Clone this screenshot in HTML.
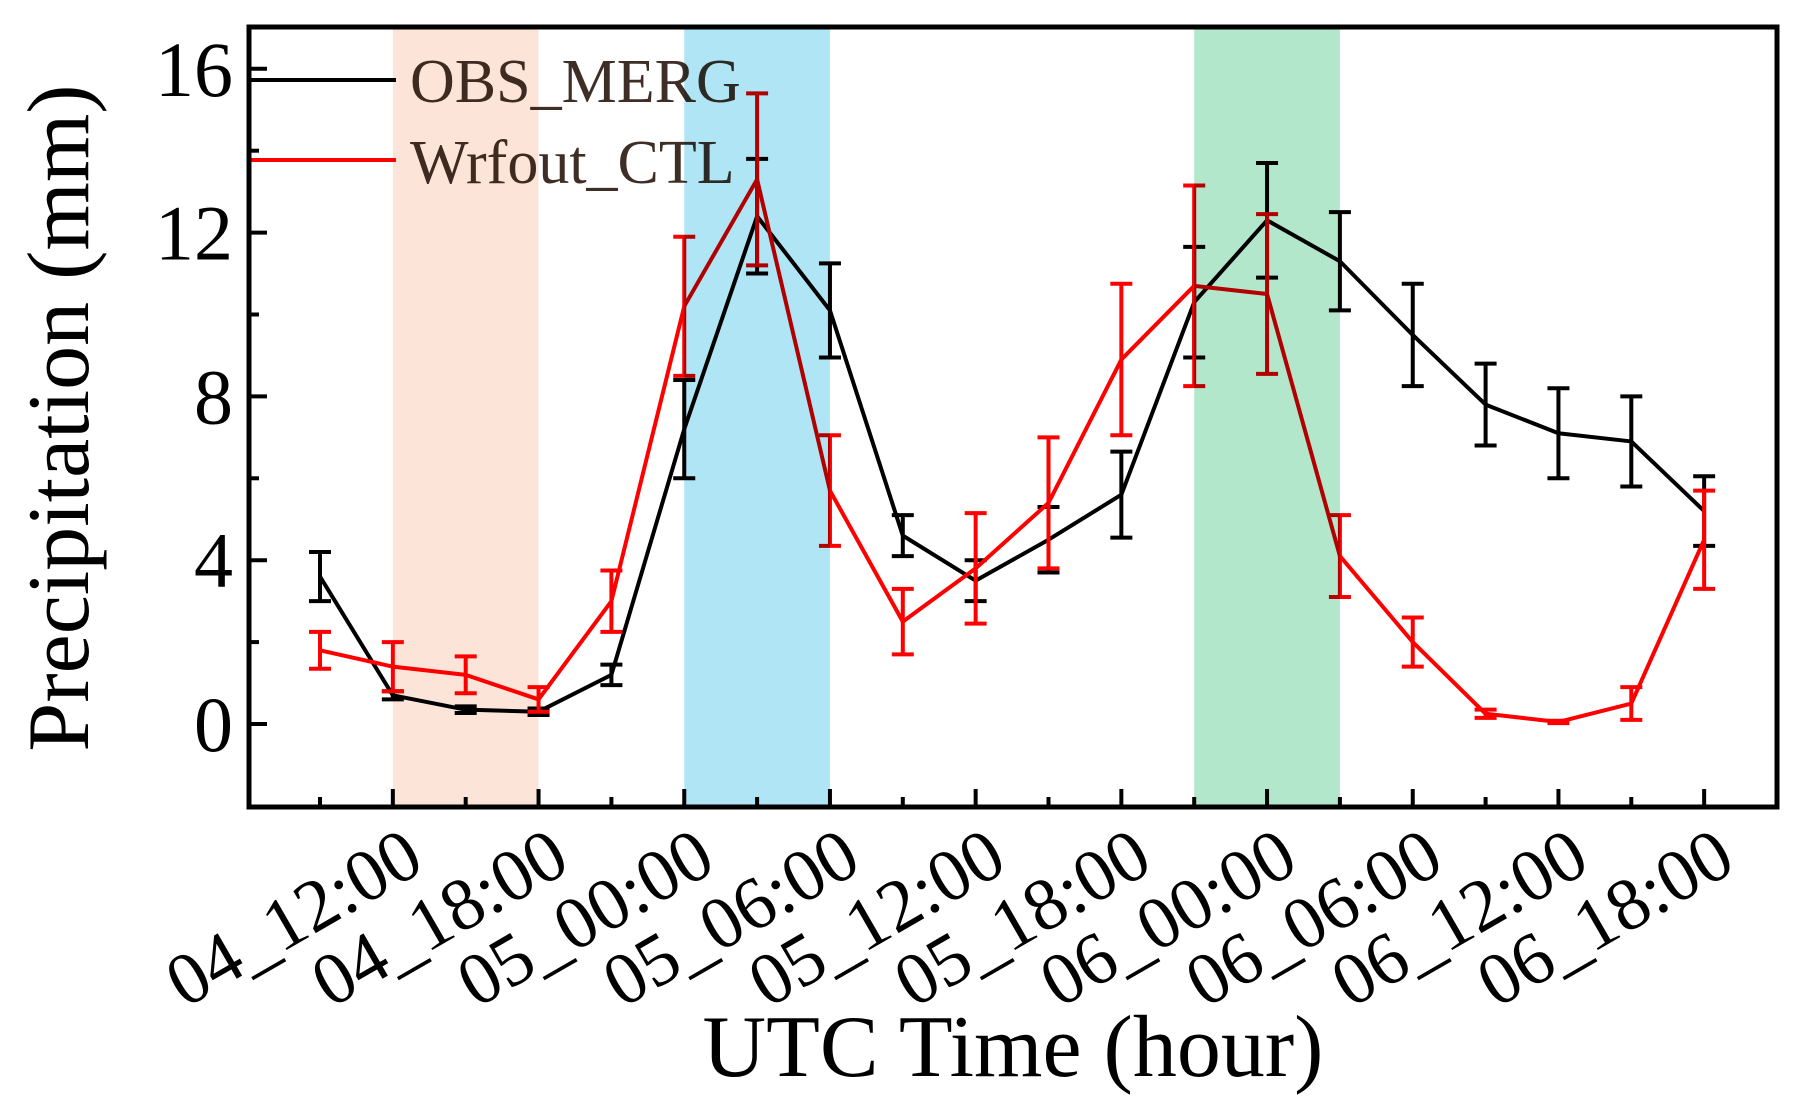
<!DOCTYPE html>
<html><head><meta charset="utf-8"><style>
html,body{margin:0;padding:0;background:#fff;}
svg{display:block;font-family:"Liberation Serif",serif;}
</style></head><body>
<svg id="chart" width="1801" height="1113" viewBox="0 0 1801 1113" xmlns="http://www.w3.org/2000/svg">
<g id="lines"></g>
<g id="bands" style="mix-blend-mode:multiply"></g>
<g id="axes"></g>
</svg>
<script>
const categories=["04_09:00","04_12:00","04_15:00","04_18:00","04_21:00","05_00:00","05_03:00","05_06:00","05_09:00","05_12:00","05_15:00","05_18:00","05_21:00","06_00:00","06_03:00","06_06:00","06_09:00","06_12:00","06_15:00","06_18:00"];
const obsValues=[3.6,0.7,0.35,0.3,1.2,7.2,12.4,10.1,4.6,3.5,4.5,5.6,10.3,12.3,11.3,9.5,7.8,7.1,6.9,5.2];
const obsErr=[0.6,0.1,0.08,0.08,0.25,1.2,1.4,1.15,0.5,0.5,0.8,1.05,1.35,1.4,1.2,1.25,1.0,1.1,1.1,0.85];
const ctlValues=[1.8,1.4,1.2,0.6,3.0,10.2,13.3,5.7,2.5,3.8,5.4,8.9,10.7,10.5,4.1,2.0,0.25,0.05,0.5,4.5];
const ctlErr=[0.45,0.6,0.45,0.3,0.75,1.7,2.1,1.35,0.8,1.35,1.6,1.85,2.45,1.95,1.0,0.6,0.1,0.03,0.4,1.2];
const yTicks=[0,4,8,12,16];
const yMinor=[2,6,10,14];
const xLabels=["04_12:00","04_18:00","05_00:00","05_06:00","05_12:00","05_18:00","06_00:00","06_06:00","06_12:00","06_18:00"];
const xLabelIdx=[1,3,5,7,9,11,13,15,17,19];
const bandsData=[[1,3,"#fce5d8"],[5,7,"#b0e5f6"],[12,14,"#b2e7cb"]];

const L=249,R=1777,T=27,B=807;
const X0=320,DX=72.85;
const xs=i=>X0+i*DX;
const ys=v=>724-v*40.95;
const NS="http://www.w3.org/2000/svg";
function mk(tag,attrs,parent){const e=document.createElementNS(NS,tag);for(const k in attrs)e.setAttribute(k,attrs[k]);parent.appendChild(e);return e;}
const gl=document.getElementById('lines'),gb=document.getElementById('bands'),ga=document.getElementById('axes');

bandsData.forEach((b,i)=>{
 const r=mk('rect',{x:xs(b[0]),y:T,width:xs(b[1])-xs(b[0]),height:B-T,fill:b[2]},gb);
 
 
});

function series(vals,errs,color,name){
 const g=mk('g',{},gl);
 
 
 const p=mk('polyline',{points:vals.map((v,i)=>xs(i)+','+ys(v)).join(' '),fill:'none',stroke:color,'stroke-width':4,'stroke-linejoin':'round'},g);
 
 
 vals.forEach((v,i)=>{
  const x=xs(i),y1=ys(v+errs[i]),y2=ys(v-errs[i]);
  const e=mk('path',{d:`M${x},${y1}V${y2}M${x-11},${y1}H${x+11}M${x-11},${y2}H${x+11}`,stroke:color,'stroke-width':4,fill:'none'},g);
  
  
 });
}
series(obsValues,obsErr,'#000','obs-merg');
series(ctlValues,ctlErr,'#ff0000','wrfout-ctl');

const lg=mk('g',{},gl);


mk('line',{x1:251,y1:80,x2:396,y2:80,stroke:'#000','stroke-width':4},lg);
mk('line',{x1:251,y1:160,x2:396,y2:160,stroke:'#ff0000','stroke-width':4},lg);
const t1=mk('text',{x:410,y:102,'font-size':62,fill:'#3e2e26'},lg);t1.textContent='OBS_MERG';


const t2=mk('text',{x:410,y:183,'font-size':62,fill:'#3e2e26'},lg);t2.textContent='Wrfout_CTL';



const fr=mk('rect',{x:L,y:T,width:R-L,height:B-T,fill:'none',stroke:'#000','stroke-width':5},ga);


yTicks.forEach(v=>{
 mk('line',{x1:L,y1:ys(v),x2:L+18,y2:ys(v),stroke:'#000','stroke-width':4},ga);
 const t=mk('text',{x:L-16,y:ys(v)+27,'font-size':78,'text-anchor':'end',fill:'#000'},ga);
 t.textContent=v;
 
 
});
yMinor.forEach(v=>mk('line',{x1:L,y1:ys(v),x2:L+10,y2:ys(v),stroke:'#000','stroke-width':4},ga));
categories.forEach((c,i)=>{
 const major=xLabelIdx.includes(i);
 mk('line',{x1:xs(i),y1:B,x2:xs(i),y2:B-(major?18:10),stroke:'#000','stroke-width':4},ga);
});
xLabels.forEach((lab,k)=>{
 const x=xs(xLabelIdx[k])+34,y=B+62;
 const t=mk('text',{x:x,y:y,'font-size':74,'text-anchor':'end',fill:'#000',transform:`rotate(-30 ${x} ${y})`},ga);
 t.textContent=lab;
 
 
});
const xt=mk('text',{x:1013,y:1076,'font-size':88,'text-anchor':'middle',fill:'#000'},ga);
xt.textContent='UTC Time (hour)';


const yt=mk('text',{x:0,y:0,'font-size':88,'text-anchor':'middle',fill:'#000',transform:'translate(88,418) rotate(-90)'},ga);
yt.textContent='Precipitation (mm)';


</script>
</body></html>
